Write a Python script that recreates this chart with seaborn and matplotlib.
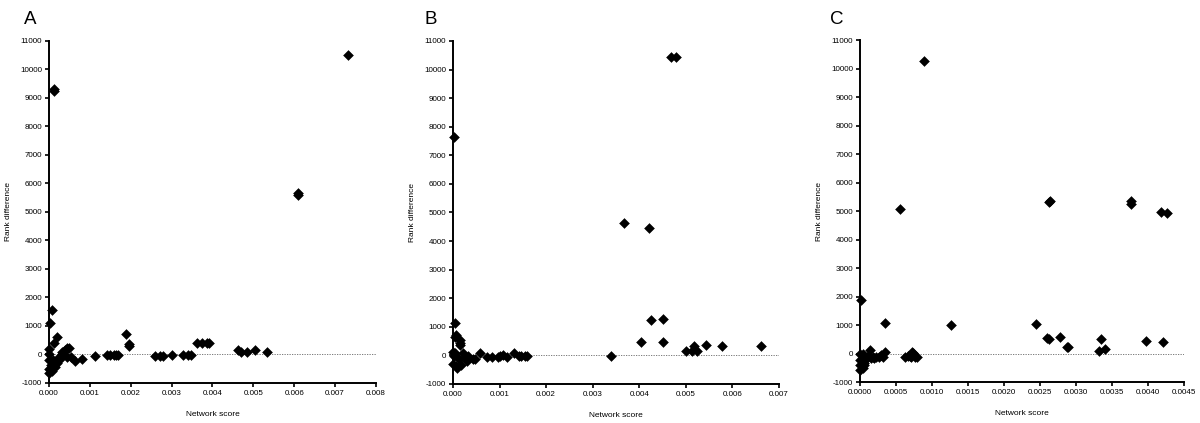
import matplotlib
matplotlib.use("Agg")
import matplotlib.pyplot as plt
import pandas as pd
import seaborn as sns

sns.set_theme(style="ticks")
plt.rcParams["font.family"] = ["Liberation Sans", "DejaVu Sans"]
plt.rcParams["text.color"] = "black"
plt.rcParams["axes.labelcolor"] = "black"

# --------------------------------------------------------------------------
# Data
# --------------------------------------------------------------------------
a_score = [0.00731, 0.00609, 0.00610, 0.00012, 0.00013, 0.00008, 0.00002, 0.00019, 0.00012,
           0.00188, 0.00197, 0.00197,
           0.0, 0.0, 0.0, 0.00004, 0.0, 0.00001, 0.00007, 0.0001, 0.00012, 0.00015, 0.00019,
           0.00023, 0.00027, 0.00031, 0.00035, 0.00039, 0.00045, 0.0005, 0.00043, 0.00055,
           0.00063, 0.00080, 0.00113, 0.00143, 0.00150, 0.00158, 0.00163, 0.00168,
           0.00260, 0.00272, 0.00280, 0.00302, 0.00327, 0.00339, 0.00347,
           0.00362, 0.00375, 0.00386, 0.00392, 0.00462, 0.00469, 0.00484, 0.00504, 0.00533]
a_rank = [10500, 5600, 5650, 9250, 9300, 1560, 1100, 600, 400,
          710, 360, 300,
          175, 0, -200, -370, -525, -660, -570, -200, -370, -430, -310,
          -140, -175, 90, 35, 150, 210, 230, -80, -80,
          -230, -160, -50, -30, -30, -30, -30, -30,
          -40, -40, -40, -30, -30, -30, -30,
          400, 400, 420, 420, 160, 100, 100, 160, 100]

b_score = [0.00468, 0.00478, 0.00003, 0.00367, 0.00420, 0.00426, 0.00451, 0.00403, 0.00451,
           0.0034, 0.00501, 0.00513, 0.00518, 0.00523, 0.00543, 0.00577, 0.00661,
           0.00005, 0.00004, 0.00006, 0.00014, 0.00016, 0.00015,
           0.0, 0.00002, 0.00004, 0.0, 0.00006, 0.00009, 0.00012, 0.00018, 0.00022, 0.00026,
           0.00031, 0.00033, 0.00043, 0.00047, 0.00057, 0.00074, 0.00083, 0.00097, 0.0010,
           0.00108, 0.00117, 0.0013, 0.00142, 0.00146, 0.00154, 0.00159]
b_rank = [10455, 10455, 7630, 4640, 4450, 1250, 1260, 455, 480,
          -20, 140, 140, 330, 140, 350, 340, 340,
          1130, 640, 700, 370, 530, 440,
          130, -20, 70, -300, -380, -440, -110, -340, 70, -50,
          -200, -20, -130, -110, 90, -50, -70, -70, -30,
          10, -50, 70, -20, -20, -20, -20]

c_score = [0.00089, 0.00055, 0.00262, 0.00264, 0.00377, 0.00377, 0.00418, 0.00427,
           0.00001, 0.00035, 0.00127, 0.00245, 0.0026, 0.00262, 0.00278, 0.00287, 0.00289,
           0.00332, 0.00335, 0.0034, 0.00397, 0.00421,
           0.0, 0.00004, 0.0, 0.0, 0.0, 0.00004, 0.00005, 0.00006, 0.00007, 0.00005,
           0.00011, 0.00014, 0.00015, 0.00018, 0.0002, 0.00022, 0.00026, 0.00029, 0.00032,
           0.00035, 0.00062, 0.00066, 0.0007, 0.00072, 0.00074, 0.00077, 0.00079, 0.00071]
c_rank = [10270, 5080, 5320, 5350, 5360, 5240, 4950, 4930,
          1880, 1060, 1000, 1030, 560, 510, 580, 220, 220,
          90, 500, 160, 455, 420,
          0, -10, -220, -400, -570, -510, -340, -400, -220, -160,
          -80, 130, -160, -105, -160, -105, -130, -50, -105,
          70, -105, -80, -80, 70, 10, -105, -130, -105]

panels = ["A", "B", "C"]
x_max = [0.008, 0.007, 0.0045]
x_step = [0.001, 0.001, 0.0005]
x_fmt = ["{:.3f}", "{:.3f}", "{:.4f}"]
y_ticks = list(range(-1000, 11001, 1000))

frames = [
    pd.DataFrame({"score": a_score, "rank": a_rank}),
    pd.DataFrame({"score": b_score, "rank": b_rank}),
    pd.DataFrame({"score": c_score, "rank": c_rank}),
]

# axes boxes in figure fractions [left, bottom, width, height]
boxes = [
    [0.0408, 0.0946, 0.2725, 0.8085],
    [0.3775, 0.0922, 0.2717, 0.8109],
    [0.7167, 0.0969, 0.2700, 0.8085],
]
label_x = [0.020, 0.354, 0.692]

fig = plt.figure(figsize=(12, 4.23), dpi=100)

for i, df in enumerate(frames):
    ax = fig.add_axes(boxes[i])
    ax.axhline(0, color="#666666", lw=0.6, ls=(0, (1.5, 1.5)), zorder=1)
    sns.scatterplot(data=df, x="score", y="rank", ax=ax, marker="D", s=25,
                    color="black", edgecolor="black", linewidth=0.4,
                    clip_on=False, zorder=3)
    ax.set_xlim(0, x_max[i])
    ax.set_ylim(-1000, 11000)
    n = int(round(x_max[i] / x_step[i]))
    xt = [k * x_step[i] for k in range(n + 1)]
    ax.set_xticks(xt)
    ax.set_xticklabels([x_fmt[i].format(v) for v in xt])
    ax.set_yticks(y_ticks)
    ax.set_yticklabels([str(v) for v in y_ticks])
    ax.tick_params(labelsize=5.8, length=3, width=1.2, direction="out", pad=2,
                   colors="black")
    for side in ["top", "right"]:
        ax.spines[side].set_visible(False)
    for side in ["left", "bottom"]:
        ax.spines[side].set_linewidth(1.4)
        ax.spines[side].set_color("black")
    ax.set_xlabel("Network score", fontsize=6, labelpad=10)
    ax.set_ylabel("Rank difference", fontsize=6, labelpad=6)
    fig.text(label_x[i], 0.975, panels[i], fontsize=13.5, ha="left", va="top",
             color="black")

fig.savefig("out.png", dpi=100)
